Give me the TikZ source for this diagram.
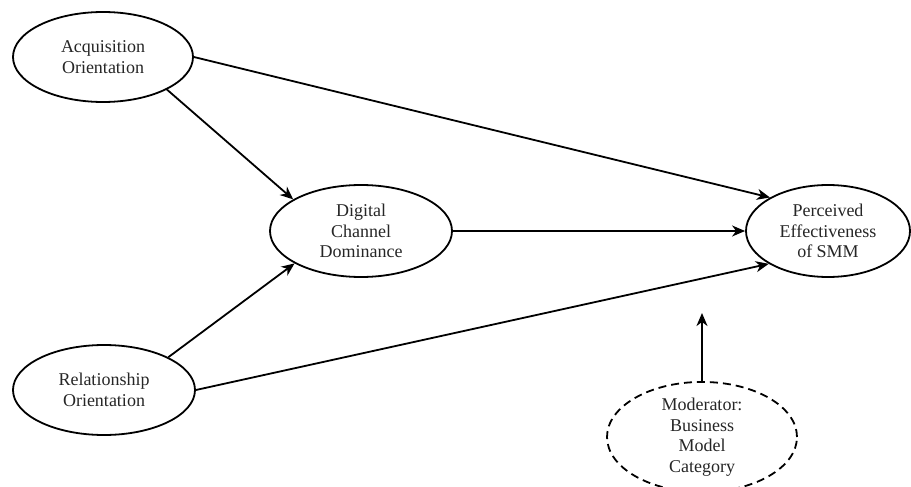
\documentclass[tikz,border=0pt]{standalone}
\usepackage{fontspec}
\setmainfont{Liberation Serif}
\usetikzlibrary{shapes.geometric,arrows.meta}

\tikzset{
  construct/.style={ellipse, draw, line width=1.8pt, inner sep=0pt, align=center,
    font=\fontsize{18}{20.5}\selectfont, text=black!85},
  moderator/.style={construct, dash pattern=on 8pt off 5pt},
  path/.style={line width=1.8pt, -{Stealth[length=13pt, width=11pt, inset=4pt]}}
}

\begin{document}
\begin{tikzpicture}[x=1pt, y=-1pt]
% Set the page size
\useasboundingbox (0,0) rectangle (911,487);

% The constructs
\node[construct, minimum width=180pt, minimum height=90pt] (acq) at (103,57) {Acquisition\\Orientation};
\node[construct, minimum width=182pt, minimum height=90pt] (rel) at (104,390) {Relationship\\Orientation};
\node[construct, minimum width=182pt, minimum height=92pt] (dcd) at (361,231) {Digital\\Channel\\Dominance};
\node[construct, minimum width=164pt, minimum height=92pt] (pes) at (828,231) {Perceived\\Effectiveness\\of SMM};
\node[moderator, minimum width=190pt, minimum height=104pt] (mod) at (702,437) {Moderator:\\Business\\Model\\Category};
\coordinate (modtip) at (702,313);

% The paths
\draw[path] (acq.east) -- (pes.150);
\draw[path] (acq.-27) -- (dcd.155);
\draw[path] (rel.27) -- (dcd.206);
\draw[path] (rel.east) -- (pes.209);
\draw[path] (dcd.east) -- (pes.west);
\draw[path] (mod.north) -- (modtip);
\end{tikzpicture}
\end{document}
